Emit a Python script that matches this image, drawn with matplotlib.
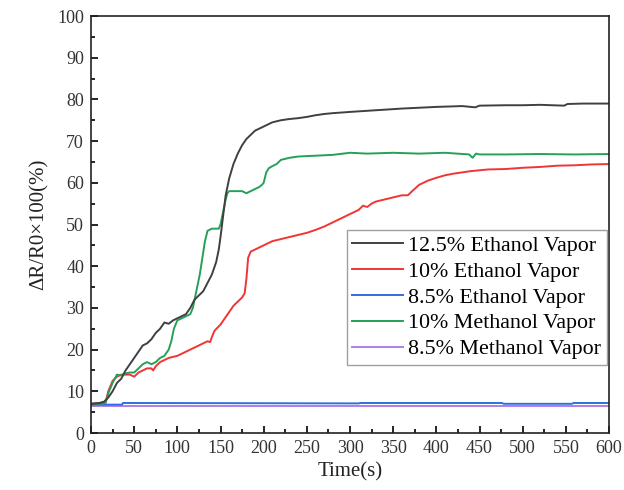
import matplotlib
matplotlib.use("Agg")
import matplotlib.pyplot as plt
from matplotlib.ticker import MultipleLocator

plt.rcParams['font.family'] = ['Liberation Serif', 'DejaVu Serif']
plt.rcParams['mathtext.fontset'] = 'stix'

labels = ["12.5% Ethanol Vapor", "10% Ethanol Vapor", "8.5% Ethanol Vapor",
          "10% Methanol Vapor", "8.5% Methanol Vapor"]
colors = ["#404040", "#f03535", "#2f6fe0", "#25a05a", "#b07ee8"]

t_black = [0, 10, 15, 20, 25, 30, 35, 40, 45, 50, 55, 60, 65, 70, 75, 80, 85, 90, 95, 100,
           105, 110, 115, 120, 125, 130, 135, 140, 145, 148, 150, 153, 156, 160, 165, 170,
           175, 180, 190, 200, 210, 220, 230, 240, 250, 260, 270, 280, 300, 330, 360, 400,
           430, 445, 450, 480, 500, 520, 548, 552, 570, 600]
v_black = [7, 7.2, 7.5, 8.5, 10, 12, 13, 15, 16.5, 18, 19.5, 21, 21.5, 22.5, 24, 25, 26.5, 26.2,
           27, 27.5, 28, 28.5, 30, 32, 33, 34, 36, 38, 41, 44, 47, 52, 57, 61, 64.5, 67,
           69, 70.5, 72.5, 73.5, 74.5, 75, 75.3, 75.5, 75.8, 76.2, 76.5, 76.7, 77, 77.4, 77.8, 78.2,
           78.4, 78.1, 78.5, 78.6, 78.6, 78.7, 78.5, 78.9, 79, 79]

t_red = [0, 10, 17, 20, 25, 30, 35, 40, 45, 50, 55, 60, 65, 70, 72, 75, 80, 90, 100, 110,
         120, 130, 135, 138, 140, 143, 150, 155, 160, 165, 170, 175, 178, 180, 182, 185, 190,
         200, 210, 220, 230, 240, 250, 260, 270, 280, 290, 300, 310, 315, 320, 325, 330, 340,
         350, 360, 367, 372, 380, 390, 400, 410, 420, 440, 460, 480, 500, 520, 540, 560, 580, 600]
v_red = [7, 7.2, 7.5, 10, 12.5, 13.5, 14, 14, 14, 13.5, 14.5, 15, 15.5, 15.5, 15, 16, 17, 18, 18.5,
         19.5, 20.5, 21.5, 22, 21.8, 23, 24.5, 26, 27.5, 29, 30.5, 31.5, 32.5, 33.5, 37, 42, 43.5,
         44, 45, 46, 46.5, 47, 47.5, 48, 48.7, 49.5, 50.5, 51.5, 52.5, 53.5, 54.5, 54.2, 55, 55.5,
         56, 56.5, 57, 57, 58, 59.5, 60.5, 61.2, 61.8, 62.2, 62.8, 63.2, 63.3, 63.6, 63.8, 64.1, 64.2,
         64.4, 64.5]

t_blue = [0, 36, 37, 310, 312, 476, 478, 557, 559, 600]
v_blue = [6.8, 6.8, 7.2, 7.1, 7.2, 7.2, 7.0, 7.0, 7.2, 7.2]

t_green = [0, 10, 17, 20, 25, 30, 35, 40, 45, 50, 55, 60, 65, 70, 75, 80, 85, 90, 93, 96, 100,
           105, 110, 115, 118, 120, 123, 126, 129, 132, 135, 140, 145, 148, 150, 153, 156, 158,
           160, 170, 175, 180, 185, 190, 195, 198, 200, 203, 206, 210, 215, 220, 230, 240, 260,
           280, 300, 320, 350, 380, 410, 438, 442, 446, 450, 480, 520, 560, 600]
v_green = [7, 7, 7.2, 9.5, 12, 14, 13.8, 14.3, 14.5, 14.5, 15.5, 16.5, 17, 16.5, 17, 18, 18.5, 20,
           22, 25, 27, 27.5, 28, 28.5, 30, 32, 35, 38, 42, 46, 48.5, 49, 49, 49, 50, 53, 56, 57.5,
           58, 58, 58, 57.5, 58, 58.5, 59, 59.5, 60, 62.5, 63.5, 64, 64.5, 65.5, 66, 66.3, 66.5,
           66.7, 67.2, 67.0, 67.2, 67.0, 67.2, 66.8, 66.0, 67.0, 66.8, 66.8, 66.9, 66.8, 66.9]

t_purple = [0, 600]
v_purple = [6.5, 6.5]

fig = plt.figure(figsize=(6.24, 4.90), dpi=100)
ax = fig.add_axes([91/624, 1 - 433/490, 518/624, 417/490])

series = [(t_black, v_black), (t_red, v_red), (t_blue, v_blue), (t_green, v_green), (t_purple, v_purple)]
order = [4, 2, 1, 3, 0]
lines = [None] * 5
for i in order:
    t, v = series[i]
    ln, = ax.plot(t, v, color=colors[i], lw=1.4, label=labels[i])
    lines[i] = ln

ax.set_xlim(0, 600)
ax.set_ylim(0, 100)
ax.xaxis.set_major_locator(MultipleLocator(50))
ax.xaxis.set_minor_locator(MultipleLocator(25))
ax.yaxis.set_major_locator(MultipleLocator(10))
ax.yaxis.set_minor_locator(MultipleLocator(5))
ax.tick_params(which='both', direction='in', top=False, right=False, width=1.2,
               labelsize=13, labelcolor='#333333', pad=5)
ax.tick_params(which='major', length=5)
ax.tick_params(which='minor', length=3)
for s in ax.spines.values():
    s.set_linewidth(1.2)
    s.set_color('#222222')

ax.set_xlabel("Time(s)", fontsize=15, color='#222222', labelpad=4)
ax.set_ylabel("ΔR/R0×100(%)", fontsize=15, color='#222222', labelpad=6)

leg = ax.legend(lines, labels, loc='upper left', bbox_to_anchor=((347-91)/518, (433-230)/417),
                fontsize=15.8, frameon=True, fancybox=False, edgecolor='#888888',
                handlelength=2.3, handletextpad=0.25, labelspacing=0.25, borderpad=0.25,
                borderaxespad=0)
leg.get_frame().set_linewidth(1.0)

fig.savefig("out.png", dpi=100)
